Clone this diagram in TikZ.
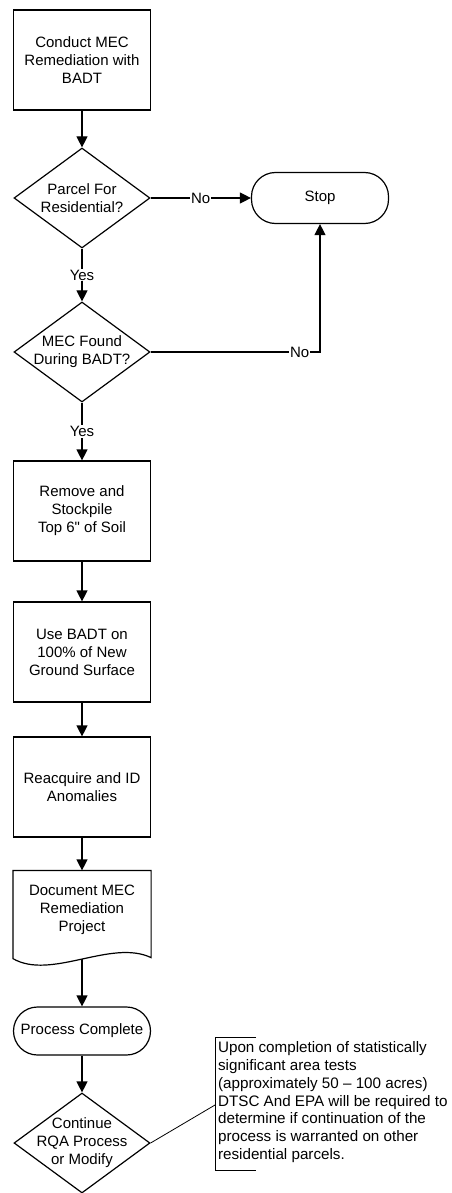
\documentclass[tikz,border=0pt]{standalone}
\usepackage{fontspec}
\setmainfont{Liberation Sans}
\usetikzlibrary{shapes.geometric,arrows.meta}

\begin{document}
\begin{tikzpicture}[x=1pt,y=-1pt,
        font=\fontsize{15}{18}\selectfont,
        line width=1.2pt,
        process/.style={rectangle,draw,minimum width=137pt,minimum height=100pt,align=center},
        decision/.style={diamond,draw,aspect=1.36,minimum width=136pt,minimum height=100pt,inner sep=-8pt,align=center},
        terminal/.style={rectangle,draw,rounded corners=24pt,minimum width=137pt,minimum height=50pt,align=center},
        flow/.style={-{Triangle[length=11pt,width=11pt]}},
        lbl/.style={fill=white,inner sep=1pt}]
        \pgfmathsetmacro\cx{82}
        \useasboundingbox (0,0) rectangle (451,1193);
        \node[process] (conduct) at (\cx,60) {Conduct MEC\\Remediation with\\BADT};
        \node[decision] (resid) at (\cx,198) {Parcel For\\Residential?};
        \node[terminal,minimum height=51pt] (stop) at (320,198) {Stop};
        \node[decision] (found) at (\cx,352) {MEC Found\\During BADT?};
        \node[process] (remove) at (\cx,511) {Remove and\\Stockpile\\Top 6\textquotedbl{} of Soil};
        \node[process] (use) at (\cx,652) {Use BADT on\\100\% of New\\Ground Surface};
        \node[process] (reacq) at (\cx,787) {Reacquire and ID\\Anomalies};
        \node[minimum width=137pt,minimum height=78pt,align=center] (doc) at (\cx,910) {Document MEC\\Remediation\\Project};
        \node[terminal,minimum height=48pt] (done) at (\cx,1031) {Process Complete};
        \node[decision] (cont) at (\cx,1143) {Continue\\RQA Process\\or Modify};
        \node[align=left,inner sep=0pt,anchor=north west,font=\fontsize{15.2}{17.8}\selectfont] (note) at (217.5,1041)
        {Upon completion of statistically\\significant area tests\\(approximately 50 -- 100 acres)\\DTSC And EPA will be required to\\determine if continuation of the\\process is warranted on other\\residential parcels.};
        % document shape
        \draw (doc.south east) -- (doc.north east) -- (doc.north west) -- (doc.south west)
        -- ([yshift=-9pt]doc.south west) .. controls +(38,22) and +(-40,-19) .. ([yshift=-8pt]doc.south east) -- cycle;
        \coordinate (docb) at ([yshift=-9.5pt]doc.south);
        % bracket
        \coordinate (brt) at (215,1037);
        \coordinate (brb) at (215,1170);
        \coordinate (brm) at (215,1105);
        \draw[line width=0.8pt] ([xshift=41pt]brt) -- (brt) -- (brb) -- ([xshift=41pt]brb);
        \draw[flow] (conduct) -- (resid);
        \draw[flow] (resid) -- node[lbl] {No} (stop);
        \draw[flow] (resid) -- node[lbl] {Yes} (found);
        \draw[flow] (found) -- node[lbl,pos=0.88] {No} (found -| stop) -- (stop);
        \draw[flow] (found) -- node[lbl] {Yes} (remove);
        \draw[flow] (remove) -- (use);
        \draw[flow] (use) -- (reacq);
        \draw[flow] (reacq) -- (doc);
        \draw[flow] (docb) -- (done);
        \draw[flow] (done) -- (cont);
        \draw[line width=0.8pt] (cont.east) -- (brm);
\end{tikzpicture}
\end{document}
